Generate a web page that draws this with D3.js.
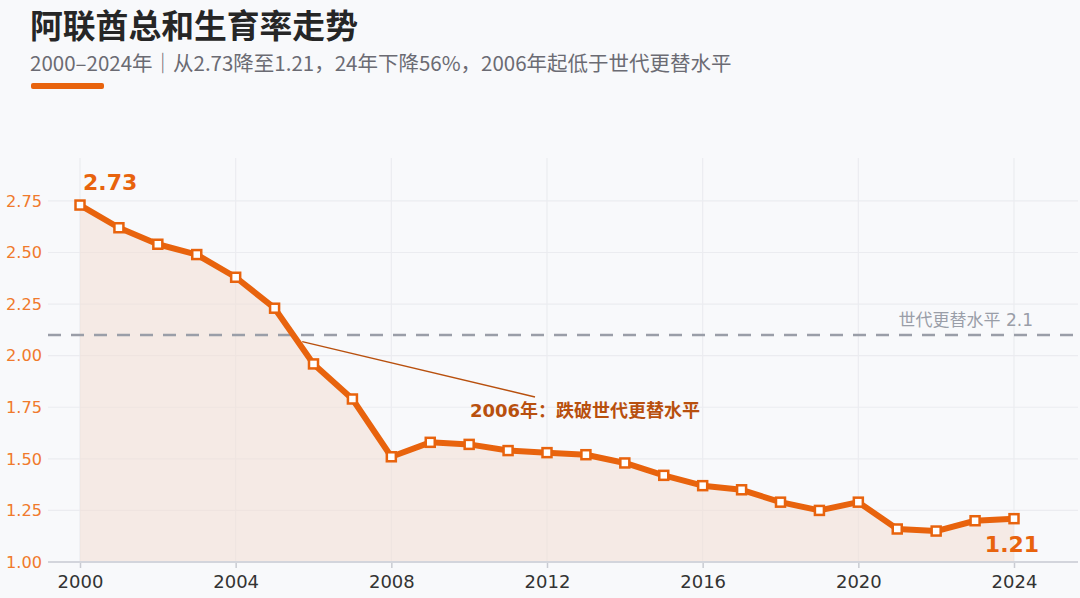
<!DOCTYPE html>
<html><head><meta charset="utf-8">
<script src="https://cdn.jsdelivr.net/npm/d3@7"></script>
<style>
html,body{margin:0;padding:0;background:#f8f9fb;}
svg{display:block;font-family:"DejaVu Sans","Noto Sans CJK SC",sans-serif;}
</style></head>
<body><svg id="c" width="1080" height="598"></svg>
<script>
const years = [2000,2001,2002,2003,2004,2005,2006,2007,2008,2009,2010,2011,2012,2013,2014,2015,2016,2017,2018,2019,2020,2021,2022,2023,2024];
const tfr = [2.73,2.62,2.54,2.49,2.38,2.23,1.96,1.79,1.51,1.58,1.57,1.54,1.53,1.52,1.48,1.42,1.37,1.35,1.29,1.25,1.29,1.16,1.15,1.20,1.21];
const xTicks = [2000,2004,2008,2012,2016,2020,2024];
const yTicks = [1.00,1.25,1.50,1.75,2.00,2.25,2.50,2.75];
const replacement = 2.1;
const title = "阿联酋总和生育率走势";
const subtitle = "2000–2024年｜从2.73降至1.21，24年下降56%，2006年起低于世代更替水平";
const refLabel = "世代更替水平 2.1";
const annoText = "2006年：跌破世代更替水平";

const svg = d3.select("#c");
const W=1080,H=598;
const L=48,R=1078,T=158,B=562;
const orange="#e8630d";
const x = d3.scaleLinear().domain([2000,2024]).range([80,1014]);
const y = d3.scaleLinear().domain([1,2.958]).range([B,T]);

svg.append("rect").attr("width",W).attr("height",H).attr("fill","#f8f9fb");

// title
svg.append("text").attr("x",30).attr("y",37.5).attr("font-size",32.8).attr("font-weight","bold")
  .attr("fill","#262626").attr("font-family","'Noto Sans CJK SC',sans-serif").text(title);
svg.append("text").attr("x",30).attr("y",71).attr("font-size",20.5)
  .attr("fill","#6b6b73").attr("font-family","'Noto Sans CJK SC',sans-serif").text(subtitle);
svg.append("rect").attr("x",31).attr("y",83).attr("width",73).attr("height",6).attr("rx",2).attr("fill",orange);

// grid
const g = svg.append("g");
g.selectAll(".hg").data(yTicks.filter(d=>d>1)).join("line")
  .attr("x1",L).attr("x2",R).attr("y1",d=>y(d)).attr("y2",d=>y(d))
  .attr("stroke","#ebecf0").attr("stroke-width",1.2);
g.selectAll(".vg").data(xTicks).join("line")
  .attr("x1",d=>x(d)).attr("x2",d=>x(d)).attr("y1",T).attr("y2",B)
  .attr("stroke","#ebecf0").attr("stroke-width",1.2);

// area
const area = d3.area().x((d,i)=>x(years[i])).y0(y(1)).y1(d=>y(d));
svg.append("path").datum(tfr).attr("d",area).attr("fill","#f3dfd3").attr("opacity",0.55);

// reference line
svg.append("line").attr("x1",L).attr("x2",R).attr("y1",y(replacement)).attr("y2",y(replacement))
  .attr("stroke","#9a9ea8").attr("stroke-width",2.5).attr("stroke-dasharray","13,10");
svg.append("text").attr("x",1033).attr("y",y(replacement)-9).attr("text-anchor","end")
  .attr("font-size",17).attr("fill","#9a9ea8").text(refLabel);

// axes
const ax = svg.append("g").attr("transform",`translate(0,${B})`)
  .call(d3.axisBottom(x).tickValues(xTicks).tickFormat(d3.format("d")).tickSize(6).tickSizeOuter(0));
ax.select(".domain").remove();
ax.selectAll(".tick line").attr("stroke","#c9cbd2").attr("stroke-width",1.5);
ax.selectAll(".tick text").attr("font-size",18).attr("fill","#333").attr("y",26).attr("dy",0)
  .attr("font-family","'DejaVu Sans',sans-serif");
svg.append("line").attr("x1",L).attr("x2",R).attr("y1",B).attr("y2",B).attr("stroke","#d3d5dc").attr("stroke-width",2);

const ay = svg.append("g").attr("transform",`translate(${L},0)`)
  .call(d3.axisLeft(y).tickValues(yTicks).tickFormat(d3.format(".2f")).tickSize(0));
ay.select(".domain").remove();
ay.selectAll(".tick text").attr("font-size",16.2).attr("fill","#f07a2c").attr("x",-6)
  .attr("font-family","'DejaVu Sans',sans-serif");

// annotation
const ax0 = x(2005.71), ay0 = y(2.068);
svg.append("line").attr("x1",ax0).attr("y1",ay0).attr("x2",535).attr("y2",397)
  .attr("stroke","#b8500e").attr("stroke-width",1.5);
svg.append("text").attr("x",470).attr("y",417).attr("font-size",18).attr("font-weight","bold")
  .attr("fill","#b8500e").attr("font-family","'DejaVu Sans','Noto Sans CJK SC',sans-serif").text(annoText);

// line
const line = d3.line().x((d,i)=>x(years[i])).y(d=>y(d));
svg.append("path").datum(tfr).attr("d",line).attr("fill","none").attr("stroke",orange)
  .attr("stroke-width",6).attr("stroke-linejoin","round").attr("stroke-linecap","round");
svg.selectAll(".m").data(tfr).join("rect")
  .attr("x",(d,i)=>x(years[i])-4.5).attr("y",d=>y(d)-4.5).attr("width",9).attr("height",9)
  .attr("fill","#fff").attr("stroke",orange).attr("stroke-width",2.5);

// end labels
svg.append("text").attr("x",x(2000)+3).attr("y",y(tfr[0])-15).attr("font-size",22).attr("font-weight","bold")
  .attr("fill",orange).text(d3.format(".2f")(tfr[0]));
svg.append("text").attr("x",x(2024)-2).attr("y",552).attr("text-anchor","middle").attr("font-size",22).attr("font-weight","bold")
  .attr("fill",orange).text(d3.format(".2f")(tfr[tfr.length-1]));
</script></body></html>
